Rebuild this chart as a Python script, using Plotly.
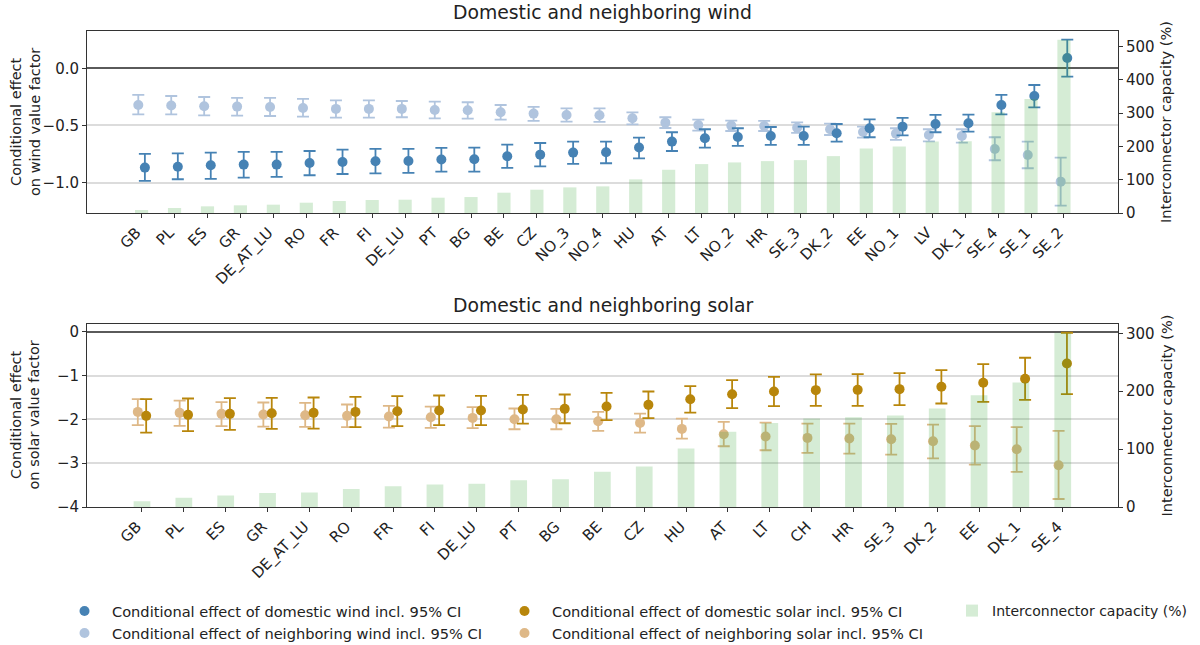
import plotly.graph_objects as go

# ---------------- data ----------------
wind_zones = ["GB", "PL", "ES", "GR", "DE_AT_LU", "RO", "FR", "FI", "DE_LU", "PT", "BG", "BE", "CZ",
              "NO_3", "NO_4", "HU", "AT", "LT", "NO_2", "HR", "SE_3", "DK_2", "EE", "NO_1", "LV",
              "DK_1", "SE_4", "SE_1", "SE_2"]
wind_dom = [-0.868, -0.860, -0.848, -0.842, -0.842, -0.828, -0.819, -0.813, -0.810, -0.798, -0.795, -0.769,
            -0.755, -0.737, -0.734, -0.693, -0.641, -0.612, -0.600, -0.592, -0.592, -0.568, -0.524, -0.510,
            -0.487, -0.481, -0.321, -0.242, 0.090]
wind_dom_hi = [-0.749, -0.743, -0.737, -0.731, -0.731, -0.723, -0.711, -0.705, -0.705, -0.696, -0.693, -0.667,
               -0.653, -0.641, -0.641, -0.606, -0.559, -0.533, -0.524, -0.513, -0.510, -0.487, -0.446, -0.434,
               -0.408, -0.405, -0.233, -0.146, 0.251]
wind_dom_lo = [-0.985, -0.970, -0.967, -0.956, -0.950, -0.935, -0.924, -0.918, -0.915, -0.903, -0.903, -0.871,
               -0.857, -0.836, -0.830, -0.787, -0.723, -0.693, -0.679, -0.670, -0.670, -0.641, -0.603, -0.586,
               -0.559, -0.554, -0.402, -0.341, -0.073]
wind_nb = [-0.321, -0.326, -0.332, -0.335, -0.338, -0.347, -0.355, -0.355, -0.355, -0.364, -0.367, -0.385,
           -0.396, -0.408, -0.411, -0.437, -0.475, -0.495, -0.501, -0.504, -0.519, -0.533, -0.557, -0.571,
           -0.583, -0.592, -0.705, -0.758, -0.991]
wind_nb_hi = [-0.233, -0.242, -0.251, -0.259, -0.259, -0.268, -0.280, -0.280, -0.286, -0.291, -0.297, -0.321,
              -0.338, -0.350, -0.350, -0.385, -0.428, -0.449, -0.457, -0.460, -0.472, -0.484, -0.510, -0.524,
              -0.533, -0.533, -0.603, -0.641, -0.781]
wind_nb_lo = [-0.402, -0.402, -0.411, -0.414, -0.417, -0.422, -0.431, -0.431, -0.428, -0.437, -0.440, -0.449,
              -0.460, -0.466, -0.469, -0.490, -0.522, -0.545, -0.548, -0.548, -0.565, -0.583, -0.606, -0.626,
              -0.638, -0.650, -0.804, -0.874, -1.200]
wind_cap = [9, 15, 20, 23, 25, 31, 36, 39, 40, 46, 48, 61, 70, 77, 80, 101, 130, 147, 152, 156, 159, 171,
            194, 200, 215, 216, 303, 343, 521]

solar_zones = ["GB", "PL", "ES", "GR", "DE_AT_LU", "RO", "FR", "FI", "DE_LU", "PT", "BG", "BE", "CZ",
               "HU", "AT", "LT", "CH", "HR", "SE_3", "DK_2", "EE", "DK_1", "SE_4"]
solar_dom = [-1.920, -1.897, -1.874, -1.859, -1.851, -1.829, -1.813, -1.798, -1.798, -1.775, -1.760, -1.707,
             -1.669, -1.539, -1.425, -1.364, -1.333, -1.326, -1.310, -1.257, -1.166, -1.074, -0.724]
solar_dom_hi = [-1.539, -1.524, -1.516, -1.509, -1.501, -1.486, -1.470, -1.455, -1.463, -1.440, -1.432, -1.394,
                -1.364, -1.242, -1.105, -1.029, -0.975, -0.968, -0.945, -0.876, -0.739, -0.594, -0.023]
solar_dom_lo = [-2.301, -2.270, -2.240, -2.217, -2.210, -2.179, -2.156, -2.133, -2.133, -2.095, -2.088, -2.019,
                -1.973, -1.844, -1.745, -1.699, -1.691, -1.691, -1.676, -1.638, -1.600, -1.554, -1.425]
solar_nb = [-1.829, -1.851, -1.874, -1.890, -1.905, -1.920, -1.935, -1.950, -1.966, -1.996, -1.996, -2.042,
            -2.080, -2.217, -2.339, -2.392, -2.423, -2.438, -2.453, -2.499, -2.598, -2.682, -3.048]
solar_nb_hi = [-1.539, -1.570, -1.608, -1.615, -1.623, -1.661, -1.691, -1.707, -1.722, -1.752, -1.760, -1.829,
               -1.867, -1.981, -2.057, -2.072, -2.095, -2.095, -2.103, -2.118, -2.156, -2.179, -2.263]
solar_nb_lo = [-2.133, -2.149, -2.156, -2.164, -2.171, -2.179, -2.187, -2.194, -2.202, -2.225, -2.225, -2.263,
               -2.301, -2.438, -2.613, -2.705, -2.766, -2.781, -2.804, -2.888, -3.032, -3.200, -3.817]
solar_cap = [10, 16, 20, 24, 25, 31, 36, 39, 40, 46, 48, 61, 70, 101, 130, 145, 153, 155, 158, 170, 193,
             215, 301]

wind_left_ticks = [-1.0, -0.5, 0.0]
wind_left_text = ["\u22121.0", "\u22120.5", "0.0"]
wind_right_ticks = [0, 100, 200, 300, 400, 500]
solar_left_ticks = [-4, -3, -2, -1, 0]
solar_left_text = ["\u22124", "\u22123", "\u22122", "\u22121", "0"]
solar_right_ticks = [0, 100, 200, 300]

# ---------------- style ----------------
FONT = "DejaVu Sans"
TXT = "#222222"
AX = "#333333"
C_DW = "#4682B4"
C_NW = "#B0C4DE"
C_DS = "#B8860B"
C_NS = "#DEB887"
C_BAR = "rgba(44,160,44,0.2)"
OFF = 0.1


def err(center, hi, lo, color):
    return dict(type="data", symmetric=False,
                array=[h - c for h, c in zip(hi, center)],
                arrayminus=[c - l for c, l in zip(center, lo)],
                color=color, thickness=1.8, width=6)


wx = list(range(len(wind_zones)))
sx = list(range(len(solar_zones)))

fig = go.Figure()

# wind subplot
fig.add_trace(go.Bar(x=wx, y=wind_cap, width=0.4, marker=dict(color=C_BAR, line=dict(width=0)),
                     xaxis="x", yaxis="y2", name="Interconnector capacity (%)", legend="legend3",
                     showlegend=True))
fig.add_trace(go.Scatter(x=[v - OFF for v in wx], y=wind_nb, mode="markers",
                         marker=dict(color=C_NW, size=10),
                         error_y=err(wind_nb, wind_nb_hi, wind_nb_lo, C_NW),
                         xaxis="x", yaxis="y", legend="legend", legendrank=2,
                         name="Conditional effect of neighboring wind incl. 95% CI"))
fig.add_trace(go.Scatter(x=[v + OFF for v in wx], y=wind_dom, mode="markers",
                         marker=dict(color=C_DW, size=10),
                         error_y=err(wind_dom, wind_dom_hi, wind_dom_lo, C_DW),
                         xaxis="x", yaxis="y", legend="legend", legendrank=1,
                         name="Conditional effect of domestic wind incl. 95% CI"))

# solar subplot
fig.add_trace(go.Bar(x=sx, y=solar_cap, width=0.4, marker=dict(color=C_BAR, line=dict(width=0)),
                     xaxis="x2", yaxis="y4", showlegend=False, legend="legend3"))
fig.add_trace(go.Scatter(x=[v - OFF for v in sx], y=solar_nb, mode="markers",
                         marker=dict(color=C_NS, size=10),
                         error_y=err(solar_nb, solar_nb_hi, solar_nb_lo, C_NS),
                         xaxis="x2", yaxis="y3", legend="legend2", legendrank=2,
                         name="Conditional effect of neighboring solar incl. 95% CI"))
fig.add_trace(go.Scatter(x=[v + OFF for v in sx], y=solar_dom, mode="markers",
                         marker=dict(color=C_DS, size=10),
                         error_y=err(solar_dom, solar_dom_hi, solar_dom_lo, C_DS),
                         xaxis="x2", yaxis="y3", legend="legend2", legendrank=1,
                         name="Conditional effect of domestic solar incl. 95% CI"))

tickfont = dict(family=FONT, size=15, color=TXT)
TITLE_SIZE = 14.5


def xax(zones, rng, anchor):
    return dict(domain=[0, 1], anchor=anchor, range=rng,
                tickmode="array", tickvals=list(range(len(zones))), ticktext=zones,
                tickangle=-45, ticks="outside", ticklen=4, tickcolor=AX, tickwidth=1,
                ticklabelshift=-5,
                showline=True, linecolor=AX, linewidth=1, mirror=True,
                showgrid=False, zeroline=False, tickfont=tickfont, automargin=False)


def yleft(dom, rng, tv, tt, anchor):
    return dict(domain=dom, anchor=anchor, range=rng, tickmode="array", tickvals=tv, ticktext=tt,
                ticks="outside", ticklen=4, tickcolor=AX, showline=True, linecolor=AX, linewidth=1,
                showgrid=True, gridcolor="#dcdcdc", gridwidth=1.5,
                zeroline=True, zerolinecolor="#5a5a5a", zerolinewidth=1.6,
                tickfont=tickfont, automargin=False)


def yright(rng, tv, over, anchor):
    return dict(overlaying=over, side="right", anchor=anchor, range=rng, tickmode="array", tickvals=tv,
                ticks="outside", ticklen=4, tickcolor=AX, showline=True, linecolor=AX, linewidth=1,
                showgrid=False, zeroline=False, tickfont=tickfont, automargin=False)


H = 645.0
PLOT_BOTTOM = 507.0
PLOT_H = 476.0


def py(px):
    return (PLOT_BOTTOM - px) / PLOT_H


def pxx(px):
    return (px - 87.0) / 1031.0


def legend_common(size, itemwidth):
    return dict(xref="container", yref="container", xanchor="left", yanchor="top",
                orientation="v", font=dict(family=FONT, size=size, color=TXT),
                bgcolor="rgba(0,0,0,0)", tracegroupgap=0, itemclick=False, itemwidth=itemwidth)


def ann_title(text, y):
    return dict(text=text, x=0.5, xref="paper", y=py(y), yref="paper", xanchor="center", yanchor="middle",
                showarrow=False, font=dict(family=FONT, size=18.8, color=TXT))


def ann_ylab(text, x, y):
    return dict(text=text, x=pxx(x), xref="paper", y=py(y), yref="paper", xanchor="center",
                yanchor="middle", textangle=-90, showarrow=False,
                font=dict(family=FONT, size=TITLE_SIZE, color=TXT))


fig.update_layout(
    width=1200, height=645,
    margin=dict(l=87, r=82, t=31, b=138, autoexpand=False),
    paper_bgcolor="white", plot_bgcolor="white",
    font=dict(family=FONT, size=14, color=TXT),
    xaxis=xax(wind_zones, [-1.657, 29.64], "y"),
    yaxis=yleft([py(213), 1.0], [-1.265, 0.326], wind_left_ticks, wind_left_text, "x"),
    yaxis2=yright([0, 547], wind_right_ticks, "y", "x"),
    xaxis2=xax(solar_zones, [-1.314, 23.32], "y3"),
    yaxis3=yleft([0.0, py(324.3)], [-4.0, 0.17], solar_left_ticks, solar_left_text, "x2"),
    yaxis4=yright([0, 315.6], solar_right_ticks, "y3", "x2"),
    legend=dict(x=57 / 1200, y=1 - 595 / H, **legend_common(14.6, 45)),
    legend2=dict(x=497 / 1200, y=1 - 595 / H, **legend_common(14.6, 45)),
    legend3=dict(x=952 / 1200, y=1 - 595 / H, **legend_common(14, 30)),
    annotations=[
        ann_title("Domestic and neighboring wind", 13),
        ann_title("Domestic and neighboring solar", 305),
        ann_ylab("Conditional effect<br>on wind value factor", 25, 122),
        ann_ylab("Conditional effect<br>on solar value factor", 25, 415.5),
        ann_ylab("Interconnector capacity (%)", 1166, 122),
        ann_ylab("Interconnector capacity (%)", 1166, 415.5),
    ],
    shapes=[
        dict(type="line", xref="x2 domain", x0=0, x1=1, yref="y3", y0=-1, y1=-1,
             line=dict(color="#b4b4b4", width=1), layer="below"),
    ],
)

fig.write_html("out.html", config={"displayModeBar": False},
               post_script="document.body.style.margin='0px';")
